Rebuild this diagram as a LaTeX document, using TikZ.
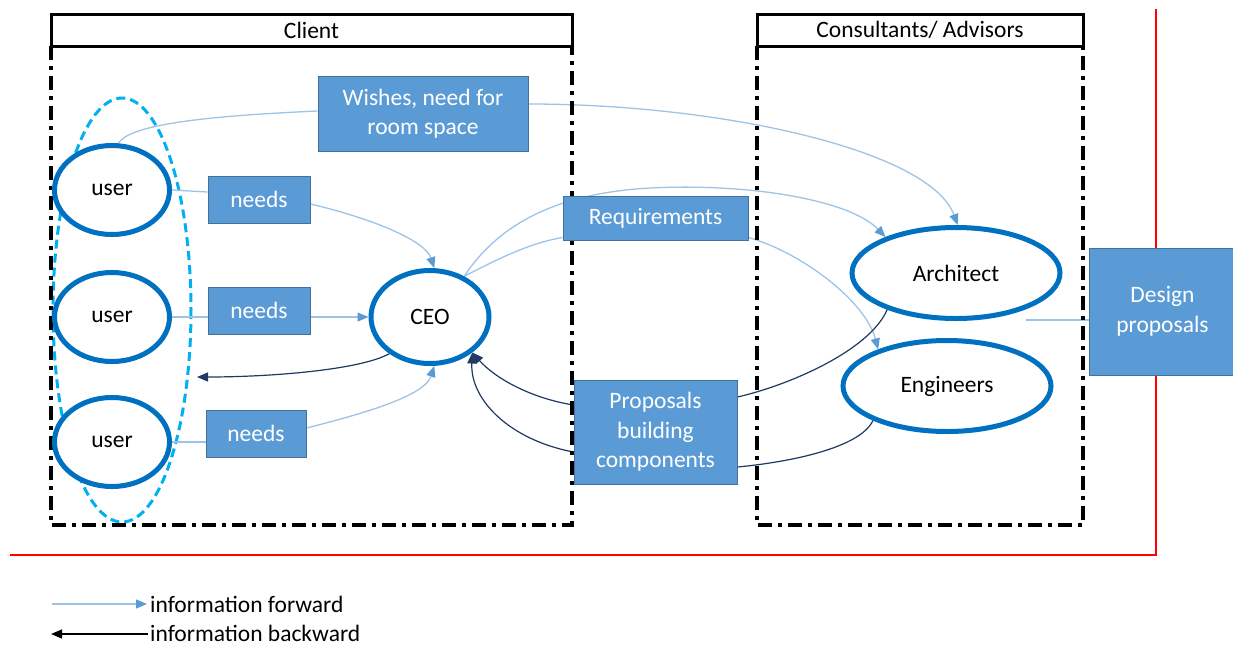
\documentclass[tikz,border=0pt]{standalone}
\usepackage{fontspec}
\setmainfont{Carlito}
\usetikzlibrary{arrows.meta,shapes.geometric,calc}
\pgfdeclarelayer{background}
\pgfsetlayers{background,main}
\definecolor{boxfill}{HTML}{5B9BD5}
\definecolor{boxline}{HTML}{41719C}
\definecolor{ellblue}{HTML}{0070C0}
\definecolor{cyanD}{HTML}{00B0F0}
\definecolor{fwd}{HTML}{9DC3E6}
\definecolor{fwdtip}{HTML}{5B9BD5}
\definecolor{bwd}{HTML}{203864}
\definecolor{redl}{HTML}{FF0000}
\tikzset{
  txt/.style={font=\fontsize{23.5}{29.5}\selectfont},
  ellnode/.style={txt, ellipse, draw=ellblue, line width=5pt, fill=white, inner sep=0pt},
  bluebox/.style={txt, rectangle, draw=boxline, line width=1pt, fill=boxfill, text=white, inner sep=0pt, align=center},
  hdr/.style={txt, rectangle, draw=black, line width=3pt, fill=white, inner sep=0pt, minimum height=32pt},
  frame/.style={draw=black, line width=3.3pt, dash pattern=on 14pt off 6pt on 4pt off 6pt},
  fwdline/.style={draw=fwd, line width=1.3pt},
  fwdarrow/.style={fwdline, -{Triangle[length=11pt,width=9pt,color=fwdtip]}},
  bwdline/.style={draw=bwd, line width=1.2pt},
  bwdarrow/.style={bwdline, -{Triangle[length=11pt,width=9pt,color=bwd]}},
}
\begin{document}
\begin{tikzpicture}[x=1pt,y=-1pt]
\useasboundingbox (0,0) rectangle (1233,646);

% frames
\draw[frame] (51,46) rectangle (572,525);
\draw[frame] (757,46) rectangle (1083,525);
\node[hdr, minimum width=521pt] (hclient) at (311.5,30) {Client};
\node[hdr, minimum width=326pt] (hcons) at (920,30) {Consultants/ Advisors};

% ellipses
\node[ellnode, minimum width=115pt, minimum height=89pt] (u1) at (112,190) {user};
\node[ellnode, minimum width=115pt, minimum height=89pt] (u2) at (112,317) {user};
\node[ellnode, minimum width=115pt, minimum height=89pt] (u3) at (112,442) {user};
\node[ellnode, minimum width=118pt, minimum height=93pt] (ceo) at (430,317) {CEO};
\node[ellnode, minimum width=208pt, minimum height=91pt] (arch) at (956,273) {Architect};
\node[ellnode, minimum width=208pt, minimum height=91pt] (eng) at (947,386) {Engineers};

% boxes
\node[bluebox, minimum width=102pt, minimum height=47pt] (n1) at (259,199.5) {needs};
\node[bluebox, minimum width=102pt, minimum height=47pt] (n2) at (259,310.5) {needs};
\node[bluebox, minimum width=100pt, minimum height=47pt] (n3) at (256,433.5) {needs};
\node[bluebox, minimum width=210pt, minimum height=75pt] (wish) at (423,113.5) {Wishes, need for\\room space};
\node[bluebox, minimum width=185pt, minimum height=44pt] (req) at (655.5,218) {Requirements};
\node[bluebox, minimum width=163pt, minimum height=104pt] (prop) at (655.5,432) {Proposals\\building\\components};
\node[bluebox, minimum width=147pt, minimum height=127pt] (des) at (1162.5,311.5) {Design\\proposals};

% helper coordinates
\coordinate (back) at (197,377);
\coordinate (dstart) at (1026,320);
\coordinate (lf1) at (52,604);
\coordinate (lf2) at (147,604);
\coordinate (lb1) at (148,634);
\coordinate (lb2) at (51,634);

% legend
\node[txt, anchor=west, inner sep=0pt] (tf) at (150,604) {information forward};
\node[txt, anchor=west, inner sep=0pt] (tb) at (150,633) {information backward};

\begin{pgfonlayer}{background}
  % red boundary
  \draw[redl, line width=2pt] (10,555) -- (1156,555) -- (1156,9);
  % dashed group
  \draw[cyanD, line width=3pt, dash pattern=on 9pt off 5pt] (122,310) ellipse [x radius=69, y radius=212];
  % wishes
  \draw[fwdline] (u1.82) .. controls (130,122) and (230,115) .. (wish.west |- 0,111);
  \draw[fwdarrow] (wish.east |- 0,104) .. controls (720,104) and (930,150) .. (arch.88);
  % needs
  \draw[fwdline] (u1.east) -- (n1.west |- 0,192);
  \draw[fwdarrow] (n1.east |- 0,204) .. controls (370,218) and (425,240) .. (ceo.85);
  \draw[fwdline] (u2.east) -- (n2.west |- 0,317);
  \draw[fwdarrow] (n2.east |- 0,317) -- (ceo.west);
  \draw[fwdline] (u3.east) -- (n3.west |- 0,442);
  \draw[fwdarrow] (n3.east |- 0,428) .. controls (370,412) and (425,395) .. (ceo.275);
  % back to users
  \draw[bwdarrow] (ceo.222) .. controls (360,370) and (270,377) .. (back);
  % requirements
  \draw[fwdarrow] (ceo.50) .. controls (500,222) and (560,193) .. (650,188) .. controls (750,183) and (850,200) .. (arch.153);
  \draw[fwdline] (ceo.50) .. controls (500,258) and (530,243) .. ($(req.south west)+(0,-3)$);
  \draw[fwdarrow] ($(req.south east)+(0,-3)$) .. controls (800,252) and (865,300) .. (eng.152);
  % proposals
  \draw[bwdarrow] ($(prop.west)+(0,-27)$) .. controls (530,398) and (495,378) .. (ceo.-40);
  \draw[bwdarrow] ($(prop.west)+(0,20)$) .. controls (510,440) and (470,400) .. (ceo.-40);
  \draw[bwdline] (arch.208) .. controls (870,350) and (790,385) .. ($(prop.east)+(0,-35)$);
  \draw[bwdline] (eng.205) .. controls (860,448) and (790,462) .. ($(prop.east)+(0,35)$);
  % design
  \draw[fwdline] (dstart) -- (des.west |- dstart);
  % legend lines
  \draw[fwdarrow] (lf1) -- (lf2);
  \draw[draw=black, line width=1.2pt, -{Triangle[length=11pt,width=9pt]}] (lb1) -- (lb2);
\end{pgfonlayer}
\end{tikzpicture}
\end{document}
